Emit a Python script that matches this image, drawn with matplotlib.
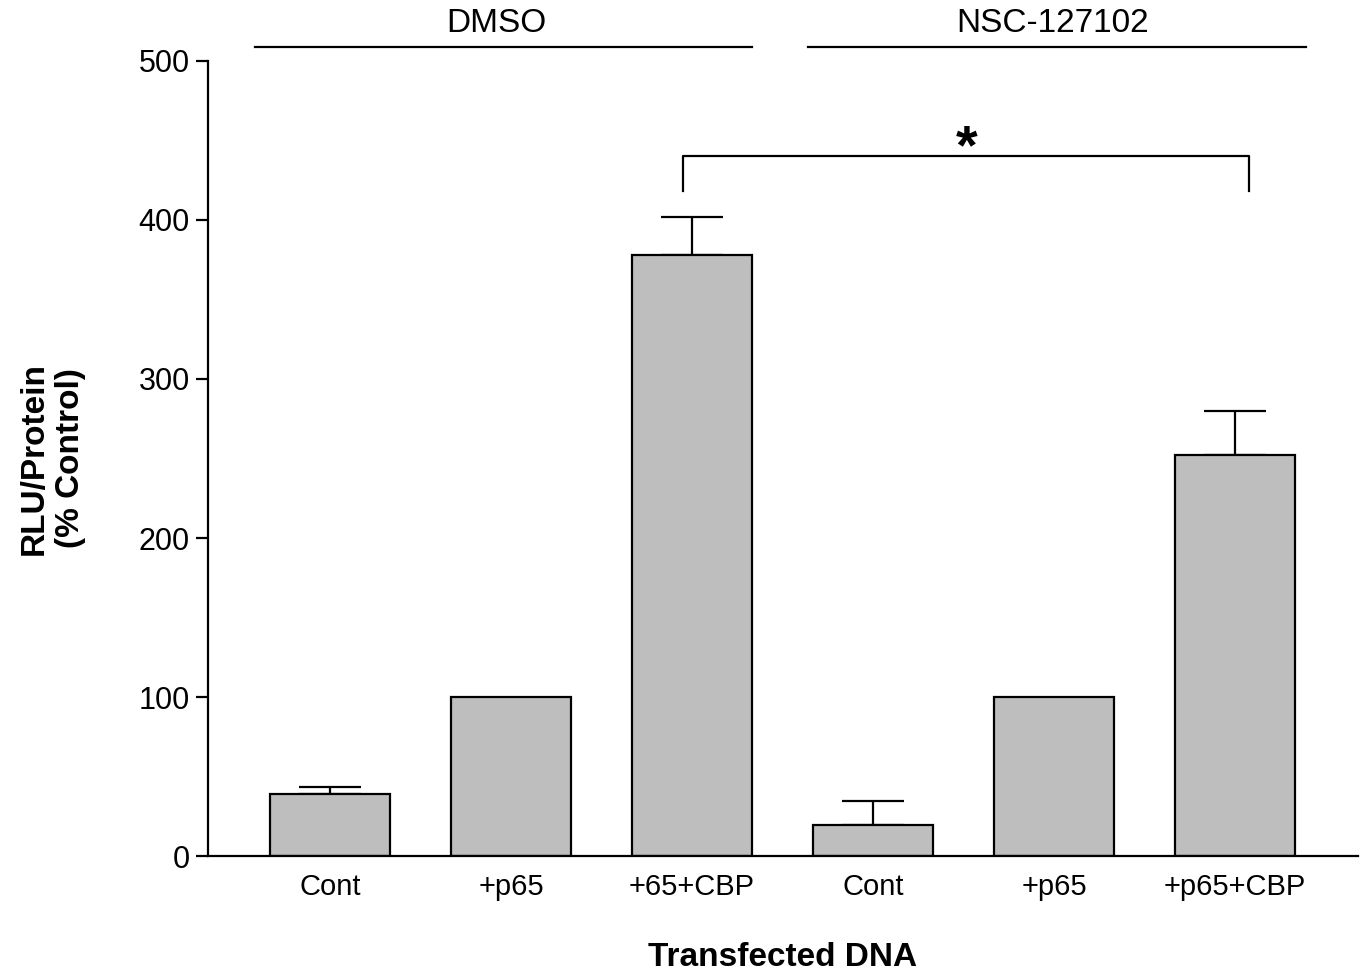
import matplotlib
matplotlib.use("Agg")
import matplotlib.pyplot as plt

plt.rcParams['font.family'] = ['Liberation Sans', 'DejaVu Sans']

# data
labels = ["Cont", "+p65", "+65+CBP", "Cont", "+p65", "+p65+CBP"]
values = [39, 100, 378, 19.5, 100, 252]
errors = [4.5, 0, 24, 15, 0, 28]
groups = ["DMSO", "NSC-127102"]

fig = plt.figure(figsize=(13.65, 9.8), dpi=100)
ax = fig.add_axes([0.1524, 0.1265, 0.8425, 0.8113])

x = list(range(len(values)))
ax.bar(x, values, width=0.66, color="#bebebe", edgecolor="black", linewidth=1.6, zorder=2)

# one-sided error bars (upper only)
for xi, v, e in zip(x, values, errors):
    if e > 0:
        ax.errorbar(xi, v, yerr=[[0], [e]], fmt="none", ecolor="black",
                    elinewidth=1.6, capsize=22, capthick=1.6, zorder=1)

ax.set_xlim(-0.674, 5.68)
ax.set_ylim(0, 500)
ax.set_yticks([0, 100, 200, 300, 400, 500])
ax.set_xticks(x)
ax.set_xticklabels(labels)
ax.tick_params(axis="x", length=0, pad=12, labelsize=21)
ax.tick_params(axis="y", length=9, width=1.6, pad=4, labelsize=22)
ax.spines["top"].set_visible(False)
ax.spines["right"].set_visible(False)
ax.spines["left"].set_linewidth(1.6)
ax.spines["bottom"].set_linewidth(1.6)

ax.set_ylabel("RLU/Protein\n(% Control)", fontsize=24, fontweight="bold", labelpad=38)
ax.set_xlabel("Transfected DNA", fontsize=24, fontweight="bold", labelpad=30)

# group lines and labels above the plot
ax.plot([-0.414, 2.33], [509, 509], color="black", lw=1.6, clip_on=False)
ax.plot([2.64, 5.39], [509, 509], color="black", lw=1.6, clip_on=False)
ax.text(0.92, 514, groups[0], ha="center", va="bottom", fontsize=24)
ax.text(3.99, 514, groups[1], ha="center", va="bottom", fontsize=24)

# significance bracket
ax.plot([1.95, 1.95, 5.08, 5.08], [418, 440, 440, 418], color="black", lw=1.6)
ax.text(3.52, 428, "*", ha="center", va="bottom", fontsize=40, fontweight="bold")

fig.savefig("out.png", dpi=100)
